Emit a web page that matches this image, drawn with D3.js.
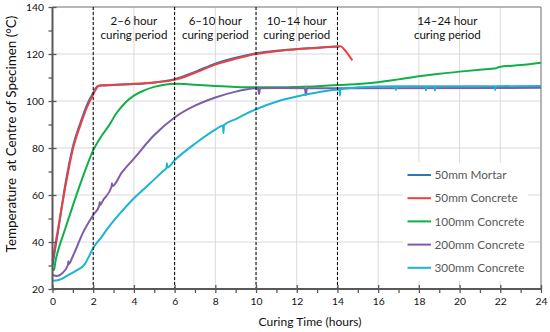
<!DOCTYPE html>
<html>
<head>
<meta charset="utf-8">
<script src="https://cdn.jsdelivr.net/npm/d3@7"></script>
<style>
  html, body { margin: 0; padding: 0; background: #fff; }
  svg { display: block; font-family: Lato, "Open Sans", sans-serif; }
</style>
</head>
<body>
<svg id="chart" width="550" height="332"></svg>
<script>
// ---------- data ----------
const xTicks = [0, 2, 4, 6, 8, 10, 12, 14, 16, 18, 20, 22, 24];
const yTicks = [20, 40, 60, 80, 100, 120, 140];
const periodBounds = [2, 6, 10, 14];
const periodLabels = [
  { t: 4, l1: "2\u20136 hour", l2: "curing period" },
  { t: 8, l1: "6\u201310 hour", l2: "curing period" },
  { t: 12, l1: "10\u201314 hour", l2: "curing period" },
  { t: 19.4, l1: "14\u201324 hour", l2: "curing period" }
];
const seriesNames = ["50mm Mortar", "50mm Concrete", "100mm Concrete", "200mm Concrete", "300mm Concrete"];
const seriesColors = ["#2E75B6", "#EE4040", "#10B048", "#7E5CA8", "#1CB4D4"];

const mortar50 = [[0,30],[0.3,46],[0.6,63],[1.0,80.5],[1.4,91.5],[1.7,98.5],[2.0,103.5],[2.2,106.2],[2.4,106.6],[3,106.8],[4,107.2],[5,107.9],[6,109.3],[7,112.4],[8,115.9],[9,118.4],[10,120.3],[11,121.4],[12,122.1],[13,122.7],[14,123.2],[14.1,123.2]];
const concrete50 = [[0,32],[0.3,47],[0.6,62],[1.0,79.5],[1.4,90.5],[1.7,97.5],[2.0,102.8],[2.27,106.5],[2.4,106.7],[3,106.9],[4,107.3],[5,107.9],[6,109],[7,112],[8,115.5],[9,118],[10,120],[11,121.2],[12,122],[13,122.6],[14,123.2],[14.15,123.3],[14.35,121.8],[14.55,119.5],[14.73,117.3]];
const concrete100 = [[0,29],[0.07,28],[0.15,32],[0.35,38.5],[0.6,45],[1.0,55.5],[1.42,66],[2.0,79],[2.4,85],[2.73,89],[3.16,95],[3.6,99.5],[4,102.3],[4.5,104.5],[5,106],[5.5,106.9],[6,107.3],[6.5,107.2],[7,106.9],[8,106.4],[9,106],[10,105.8],[11,105.8],[12,106],[13,106.3],[14,106.8],[15,107.2],[16,108],[17,109.2],[18,110.5],[19,111.6],[20,112.5],[21,113.3],[21.8,113.9],[21.9,114.4],[23,115.3],[24,116.3]];
const concrete200 = [[0,26],[0.2,25.5],[0.45,26.5],[0.76,30.2],[0.78,31.8],[0.8,30.6],[1.0,34],[1.5,44],[2.0,51.5],[2.3,55.5],[2.32,57],[2.34,55.8],[2.5,58],[2.9,63.5],[2.92,65],[2.94,63.8],[3.4,69.5],[4,75.5],[5,85.5],[6,93],[7,98],[8,101.5],[9,104],[9.5,104.9],[10.1,105.4],[10.15,103],[10.2,105.4],[11,105.5],[12.4,105.4],[12.45,102.5],[12.5,105.4],[14,105.4],[24,105.6]];
const concrete300 = [[0,23.5],[0.3,23.8],[0.76,25.8],[1.2,28],[1.58,30.5],[1.8,34],[2,37.4],[2.4,42],[2.73,46],[3.2,51],[4,58.6],[4.8,65],[5.45,70.3],[5.6,71.5],[5.62,73.5],[5.64,71.7],[6,74.8],[7,81.8],[8,87.8],[8.38,89.6],[8.4,86.3],[8.42,89.7],[9,92.3],[10,96.5],[11,99.7],[12,101.9],[13,103.6],[14.1,104.9],[14.12,102.3],[14.14,105],[15,105.8],[16,106.2],[16.85,106.3],[16.87,104.6],[16.89,106.3],[18.33,106.3],[18.35,104.5],[18.37,106.3],[18.77,106.3],[18.79,104.5],[18.81,106.3],[21.73,106.3],[21.75,104.6],[21.77,106.3],[24,106.4]];
const seriesData = [mortar50, concrete50, concrete100, concrete200, concrete300];

// ---------- helpers ----------
const svg = d3.select("#chart");
// font size that makes `str` render at `targetW` pixels wide
function fitSize(str, targetW) {
  const t = svg.append("text").attr("font-size", 20).style("white-space", "pre").text(str);
  const w = t.node().getComputedTextLength();
  t.remove();
  return 20 * targetW / w;
}
const fsPeriod = fitSize("curing period", 67);
const fsLegend = fitSize("300mm Concrete", 90);
const fsXTitle = fitSize("Curing Time (hours)", 103);
const fsYTitle = fitSize("Temperature  at Centre of Specimen (\u00B0C)", 237);
const fsTick = fitSize("140", 18);

// ---------- layout ----------
const x = d3.scaleLinear().domain([0, 24]).range([52.5, 541]);
const y = d3.scaleLinear().domain([20, 140]).range([289, 7]);

// gridlines
const grid = svg.append("g");
grid.selectAll(".vg").data(xTicks.slice(1)).join("line")
  .attr("x1", d => x(d)).attr("x2", d => x(d)).attr("y1", y(20)).attr("y2", y(140))
  .attr("stroke", "#D9D9D9").attr("stroke-width", 1);
grid.selectAll(".hg").data(yTicks.slice(1)).join("line")
  .attr("x1", x(0)).attr("x2", x(24)).attr("y1", d => y(d)).attr("y2", d => y(d))
  .attr("stroke", "#D9D9D9").attr("stroke-width", 1);

// plot border top/right
svg.append("line").attr("x1", x(0)).attr("x2", x(24)).attr("y1", y(140)).attr("y2", y(140)).attr("stroke", "#808080");
svg.append("line").attr("x1", x(24)).attr("x2", x(24)).attr("y1", y(140)).attr("y2", y(20)).attr("stroke", "#808080");

// series
const line = d3.line().x(d => x(d[0])).y(d => y(d[1])).curve(d3.curveMonotoneX);
svg.append("g").selectAll("path").data(seriesData).join("path")
  .attr("d", line).attr("fill", "none")
  .attr("stroke", (d, i) => seriesColors[i]).attr("stroke-width", 2)
  .attr("stroke-linejoin", "round");

// period dashed lines
svg.append("g").selectAll("line").data(periodBounds).join("line")
  .attr("x1", d => x(d)).attr("x2", d => x(d)).attr("y1", y(140)).attr("y2", y(20))
  .attr("stroke", "#000").attr("stroke-width", 1).attr("stroke-dasharray", "3,2");

// period labels
const pl = svg.append("g").attr("font-size", fsPeriod).attr("fill", "#111").attr("text-anchor", "middle");
pl.selectAll(".l1").data(periodLabels).join("text")
  .attr("x", d => x(d.t)).attr("y", 24.5).text(d => d.l1);
pl.selectAll(".l2").data(periodLabels).join("text")
  .attr("x", d => x(d.t)).attr("y", 39).text(d => d.l2);

// axes
const axisColor = "#595959";
const xAxis = svg.append("g").attr("transform", `translate(0,${y(20)})`)
  .call(d3.axisBottom(x).tickValues(d3.range(0, 25, 1)).tickSize(4).tickFormat(d => d % 2 === 0 ? d : ""));
xAxis.select(".domain").remove();
xAxis.selectAll(".tick line").attr("stroke", axisColor).attr("stroke-width", 1.3)
  .attr("y1", d => d % 2 === 0 ? -4 : 0).attr("y2", 4);
xAxis.selectAll(".tick text").attr("font-family", "Lato, sans-serif").attr("font-size", fsTick).attr("fill", "#111").attr("dy", "0.9em");
svg.append("line").attr("x1", x(0)).attr("x2", x(24)).attr("y1", y(20)).attr("y2", y(20))
  .attr("stroke", axisColor).attr("stroke-width", 2);

const yAxis = svg.append("g").attr("transform", `translate(${x(0)},0)`)
  .call(d3.axisLeft(y).tickValues(d3.range(20, 141, 10)).tickSize(4).tickFormat(d => d % 20 === 0 ? d : ""));
yAxis.select(".domain").remove();
yAxis.selectAll(".tick line").attr("stroke", axisColor).attr("stroke-width", 1.3)
  .attr("x1", d => d % 20 === 0 ? 4 : 0).attr("x2", -4);
yAxis.selectAll(".tick text").attr("font-family", "Lato, sans-serif").attr("font-size", fsTick).attr("fill", "#111").attr("x", -8.5);
svg.append("line").attr("x1", x(0)).attr("x2", x(0)).attr("y1", y(140)).attr("y2", y(20))
  .attr("stroke", axisColor).attr("stroke-width", 2);

// axis titles
svg.append("text").attr("x", 310).attr("y", 326).attr("text-anchor", "middle")
  .attr("font-size", fsXTitle).attr("fill", "#111").text("Curing Time (hours)");
svg.append("text").attr("transform", "translate(16,134) rotate(-90)").attr("text-anchor", "middle")
  .attr("font-size", fsYTitle).attr("fill", "#111")
  .style("white-space", "pre").text("Temperature  at Centre of Specimen (\u00B0C)");

// legend
const lg = svg.append("g");
lg.append("rect").attr("x", 403).attr("y", 163).attr("width", 125).attr("height", 118).attr("fill", "#fff");
const li = lg.selectAll(".li").data(seriesNames).join("g")
  .attr("transform", (d, i) => `translate(0,${175 + i * 23.2})`);
li.append("line").attr("x1", 407.5).attr("x2", 431).attr("stroke", (d, i) => seriesColors[i]).attr("stroke-width", 2);
li.append("text").attr("x", 434.5).attr("dy", "0.35em").attr("font-size", fsLegend).attr("fill", "#595959").text(d => d);
</script>
</body>
</html>
